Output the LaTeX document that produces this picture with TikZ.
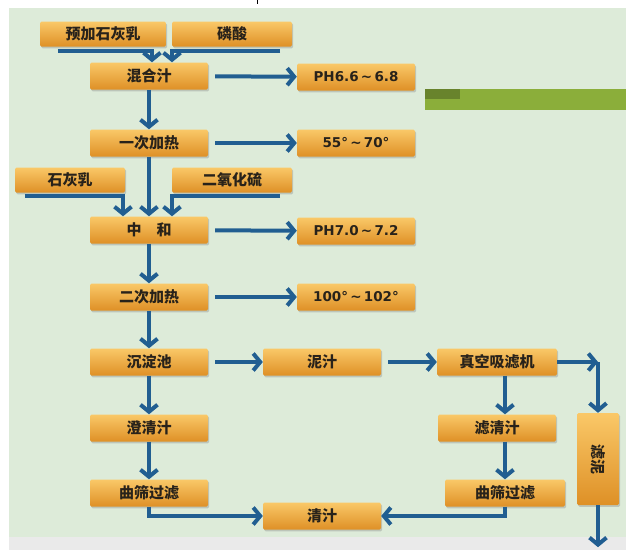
\documentclass[tikz,border=0pt]{standalone}
\usepackage{fontspec}
\setmainfont{DejaVu Sans}
\newfontfamily\cjk{Noto Sans CJK SC}
\usetikzlibrary{arrows.meta,shadows,calc}
\definecolor{bggreen}{RGB}{221,235,217}
\definecolor{bggrey}{RGB}{234,234,234}
\definecolor{arrowblue}{RGB}{33,94,145}
\definecolor{boxtop}{RGB}{250,200,104}
\definecolor{boxbot}{RGB}{222,144,38}
\definecolor{barg}{RGB}{139,174,58}
\definecolor{txt}{RGB}{40,34,26}
\begin{document}
\begin{tikzpicture}[x=1pt,y=-1pt,
  box/.style={rectangle, rounded corners=1.5pt, minimum width=118pt, minimum height=27pt, inner sep=0pt,
    top color=boxtop, bottom color=boxbot, draw=none, text=txt,
    drop shadow={shadow xshift=1.2pt, shadow yshift=-1.8pt, opacity=0.35},
    font=\cjk\bfseries\fontsize{15}{17}\selectfont},
  valbox/.style={box, font=\bfseries\fontsize{13.5}{16}\selectfont},
  arr/.style={draw=arrowblue, line width=4pt, -{Straight Barb[length=7pt,width=17pt]}},
  ln/.style={draw=arrowblue, line width=4pt}]
\useasboundingbox (0,0) rectangle (626,550);
\fill[white] (0,0) rectangle (626,550);
\fill[bggreen] (9,8) rectangle (626,537);
\fill[bggrey] (9,537) rectangle (626,550);
\draw[black, line width=0.8pt] (257,0) -- (257,4);
% green bar
\fill[barg] (425,89) rectangle (626,110);
\fill[barg!75!black] (425,89) rectangle (460,99);

% feed boxes
\node[box, minimum width=126pt, minimum height=25pt] (pre) at (103,34) {预加石灰乳};
\node[box, minimum width=120pt, minimum height=25pt] (lin) at (232,34) {磷酸};
\node[box, minimum width=110pt, minimum height=25pt] (lime) at (70,180) {石灰乳};
\node[box, minimum width=120pt, minimum height=25pt] (so2) at (232,180) {二氧化硫};

% main column
\node[box] (mix) at (149,76) {混合汁};
\node[box] (heat1) at (149,143) {一次加热};
\node[box] (neu) at (149,230) {中\quad 和};
\node[box] (heat2) at (149,297) {二次加热};
\node[box] (sed) at (149,362) {沉淀池};
\node[box] (clar) at (149,428) {澄清汁};
\node[box] (sieve1) at (149,493) {曲筛过滤};

% values
\node[valbox] (ph1) at (356,77) {PH6.6\,\textasciitilde\,6.8};
\node[valbox] (t1) at (356,143) {55°\,\textasciitilde\,70°};
\node[valbox] (ph2) at (356,231) {PH7.0\,\textasciitilde\,7.2};
\node[valbox] (t2) at (356,297) {100°\,\textasciitilde\,102°};

% right part
\node[box] (mud) at (322,362) {泥汁};
\node[box, minimum width=120pt] (vac) at (497,362) {真空吸滤机};
\node[box] (filt) at (497,428) {滤清汁};
\node[box, minimum width=120pt] (sieve2) at (505,493) {曲筛过滤};
\node[box] (clean) at (322,516) {清汁};
\node[box, minimum width=42pt, minimum height=92pt] (cake) at (598,459) {\rotatebox{-90}{滤泥}};

\coordinate (corner) at (cake.north |- vac.east);
\coordinate (out) at ($(cake.south)+(0,42)$);

% feed arrows
\draw[arr] ($(pre.south west)+(18,4)$) -| ([xshift=3pt]mix.north);
\draw[arr] ($(lin.south east)+(-12,4)$) -| ([xshift=23pt]mix.north);
\draw[arr] ($(lime.south west)+(10,3)$) -| ([xshift=-26pt]neu.north);
\draw[arr] ($(so2.south east)+(-12,3)$) -| ([xshift=23pt]neu.north);

% main flow
\draw[arr] (mix) -- (heat1);
\draw[arr] (heat1) -- (neu);
\draw[arr] (neu) -- (heat2);
\draw[arr] (heat2) -- (sed);
\draw[arr] (sed) -- (clar);
\draw[arr] (clar) -- (sieve1);

\draw[arr, shorten <=7pt] (mix) -- (ph1);
\draw[arr, shorten <=7pt] (heat1) -- (t1);
\draw[arr, shorten <=7pt] (neu) -- (ph2);
\draw[arr, shorten <=7pt] (heat2) -- (t2);

\draw[arr, shorten <=7pt] (sed) -- (mud);
\draw[arr, shorten <=7pt] (mud) -- (vac);
\draw[arr] (vac.east) -- (corner);
\draw[arr] (corner) -- (cake.north);
\draw[arr] (cake.south) -- (out);
\draw[arr] ([xshift=8pt]vac.south) -- ([xshift=8pt]filt.north);
\draw[arr] ([xshift=8pt]filt.south) -- (sieve2.north);
\draw[arr] (sieve1.south) |- (clean.west);
\draw[arr] (sieve2.south) |- (clean.east);
\end{tikzpicture}
\end{document}
